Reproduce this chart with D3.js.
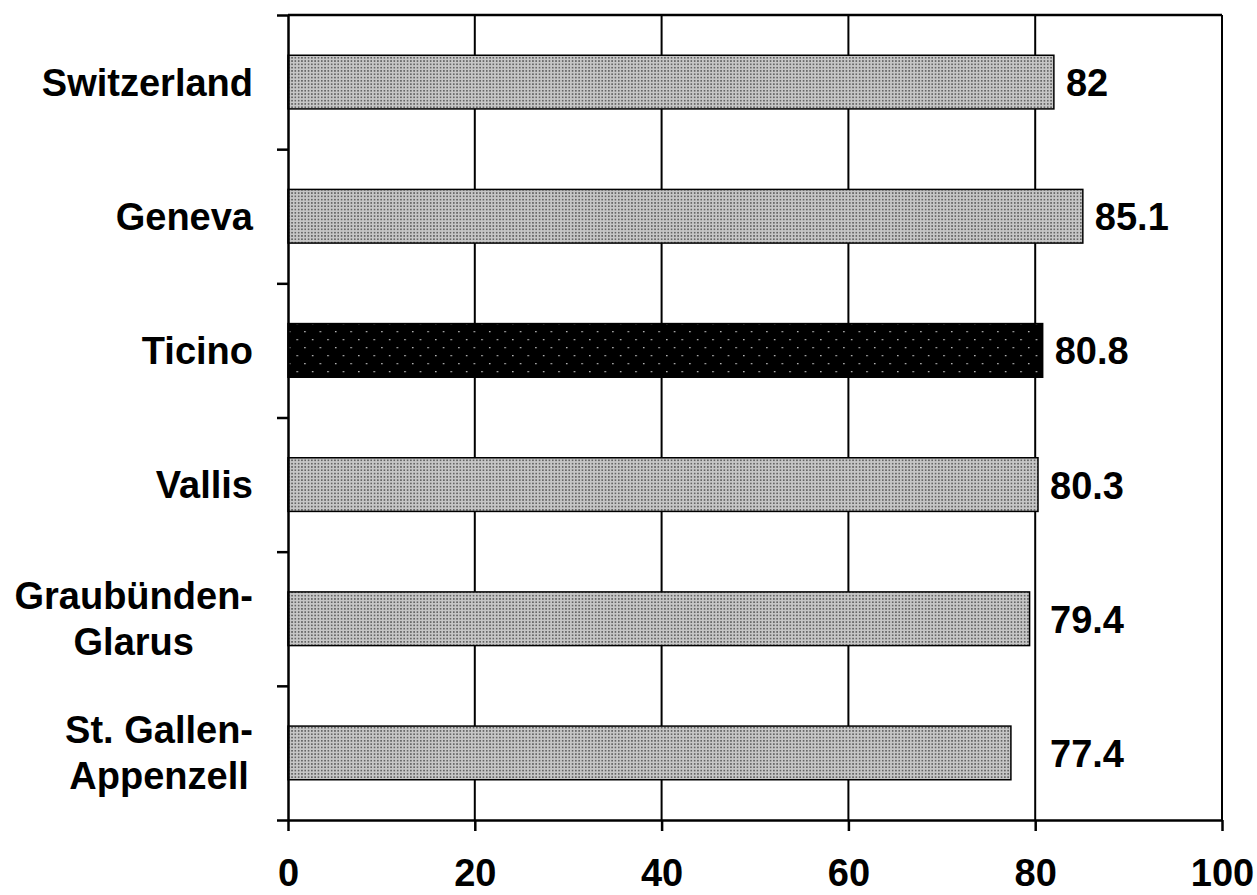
<!DOCTYPE html>
<html>
<head>
<meta charset="utf-8">
<script src="https://cdn.jsdelivr.net/npm/d3@7"></script>
<style>
  html, body { margin: 0; padding: 0; background: #fff; }
  text { font-family: "Liberation Sans", Arial, sans-serif; font-weight: bold; fill: #000; }
</style>
</head>
<body>
<svg id="chart" width="1257" height="895"></svg>
<script>
const categories = ["Switzerland", "Geneva", "Ticino", "Vallis", "Graubünden-\nGlarus", "St. Gallen-\nAppenzell"];
const values = [82, 85.1, 80.8, 80.3, 79.4, 77.4];
const valueLabels = ["82", "85.1", "80.8", "80.3", "79.4", "77.4"];
const highlighted = ["Ticino"];
const xTickValues = [0, 20, 40, 60, 80, 100];

const W = 1257, H = 895;
const margin = { top: 15, right: 35, bottom: 75, left: 288 };
const svg = d3.select("#chart");

const x = d3.scaleLinear().domain([0, 100]).range([margin.left, W - margin.right]);
const y = d3.scaleBand().domain(categories).range([margin.top, H - margin.bottom]).paddingInner(0.6).paddingOuter(0.3);
const yEdge = d3.scaleLinear().domain([0, categories.length]).range([margin.top, H - margin.bottom]);

// patterns
const defs = svg.append("defs");
const pg = defs.append("pattern").attr("id", "grayDots").attr("patternUnits", "userSpaceOnUse")
  .attr("width", 3.3).attr("height", 3.3);
pg.append("rect").attr("width", 3.3).attr("height", 3.3).attr("fill", "#c6c6c6");
pg.append("rect").attr("x", 1).attr("y", 1).attr("width", 1.3).attr("height", 1.3).attr("fill", "#2a2a2a");

const pb = defs.append("pattern").attr("id", "blackDots").attr("patternUnits", "userSpaceOnUse")
  .attr("width", 15.4).attr("height", 16);
pb.append("rect").attr("width", 15.4).attr("height", 16).attr("fill", "#000");
pb.append("rect").attr("x", 4).attr("y", 3).attr("width", 1.3).attr("height", 1.3).attr("fill", "#d8d8d8");
pb.append("rect").attr("x", 11.7).attr("y", 11).attr("width", 1.3).attr("height", 1.3).attr("fill", "#d8d8d8");

// gridlines and frame
svg.append("g").selectAll("line").data(xTickValues.filter(d => d > 0)).join("line")
  .attr("x1", d => x(d)).attr("x2", d => x(d))
  .attr("y1", margin.top).attr("y2", H - margin.bottom)
  .attr("stroke", "#000").attr("stroke-width", 2);
svg.append("line")
  .attr("x1", x(0)).attr("x2", x(100))
  .attr("y1", margin.top).attr("y2", margin.top)
  .attr("stroke", "#000").attr("stroke-width", 2.5);

// bars
svg.append("g").selectAll("rect").data(categories).join("rect")
  .attr("x", x(0))
  .attr("y", d => y(d))
  .attr("width", (d, i) => x(values[i]) - x(0))
  .attr("height", y.bandwidth())
  .attr("fill", d => highlighted.includes(d) ? "url(#blackDots)" : "url(#grayDots)")
  .attr("stroke", "#000").attr("stroke-width", 1.5);

// axes
const xAxis = svg.append("g").attr("transform", `translate(0,${H - margin.bottom})`)
  .call(d3.axisBottom(x).tickValues(xTickValues).tickSize(11).tickSizeOuter(0).tickPadding(28).tickFormat(d3.format("d")));
xAxis.select(".domain").attr("stroke", "#000").attr("stroke-width", 2.5);
xAxis.selectAll(".tick line").attr("stroke", "#000").attr("stroke-width", 2.5);
xAxis.selectAll(".tick text").attr("font-size", 38).attr("font-family", "Liberation Sans, Arial, sans-serif")
  .attr("font-weight", "bold").attr("fill", "#000");

const yAxis = svg.append("g").attr("transform", `translate(${margin.left},0)`)
  .call(d3.axisLeft(yEdge).tickValues(d3.range(categories.length + 1)).tickSize(11).tickSizeOuter(0).tickFormat(""));
yAxis.select(".domain").attr("stroke", "#000").attr("stroke-width", 2.5);
yAxis.selectAll(".tick line").attr("stroke", "#000").attr("stroke-width", 2.5);

// category labels (multi-line blocks right aligned, lines centred within block)
const labelRight = margin.left - 35;
const lineH = 46;
categories.forEach(c => {
  const lines = c.split("\n");
  const g = svg.append("g");
  const cy = y(c) + y.bandwidth() / 2;
  const texts = lines.map((ln, i) => g.append("text")
    .attr("font-size", 38)
    .attr("y", cy + (i - (lines.length - 1) / 2) * lineH + 13.5)
    .text(ln));
  const widths = texts.map(t => t.node().getComputedTextLength());
  const maxW = d3.max(widths);
  texts.forEach((t, i) => t.attr("x", labelRight - maxW + (maxW - widths[i]) / 2));
});

// value labels
const labelMinValue = 80.3;
svg.append("g").selectAll("text").data(categories).join("text")
  .attr("font-size", 38)
  .attr("x", (d, i) => x(Math.max(values[i], labelMinValue)) + 12)
  .attr("y", d => y(d) + y.bandwidth() / 2 + 14)
  .text((d, i) => valueLabels[i]);
</script>
</body>
</html>
